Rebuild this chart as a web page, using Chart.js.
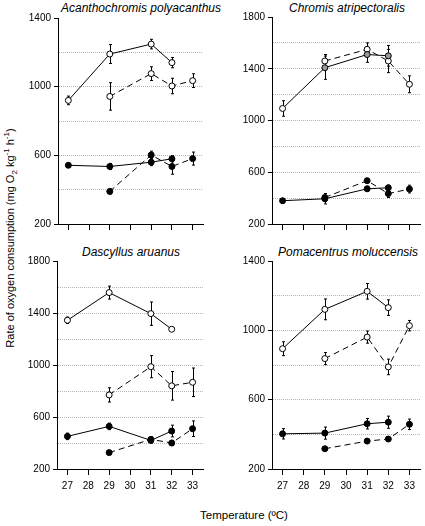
<!DOCTYPE html>
<html>
<head>
<meta charset="utf-8">
<script src="https://cdn.jsdelivr.net/npm/chart.js@4.4.1/dist/chart.umd.min.js"></script>
<style>
  body { margin: 0; background: #fff; width: 425px; height: 526px; position: relative; overflow: hidden;
         font-family: "Liberation Sans", Arial, sans-serif; color: #000; }
  canvas { position: absolute; }
  .ptitle { position: absolute; width: 220px; text-align: center; font-style: italic; font-size: 12px; line-height: 14px; }
  #ytitle { position: absolute; left: -140px; top: 231px; width: 300px; text-align: center; font-size: 11px;
            line-height: 14px; transform: rotate(-90deg); white-space: nowrap; }
  #ytitle sub, #ytitle sup { font-size: 8px; line-height: 0; }
  #xtitle { position: absolute; left: 144px; top: 508px; width: 200px; text-align: center; font-size: 11.5px; line-height: 14px; }
</style>
</head>
<body>
<div class="ptitle" style="left:31px;top:1px">Acanthochromis polyacanthus</div>
<div class="ptitle" style="left:237px;top:1px">Chromis atripectoralis</div>
<div class="ptitle" style="left:21px;top:245px">Dascyllus aruanus</div>
<div class="ptitle" style="left:238px;top:245px">Pomacentrus moluccensis</div>
<div id="ytitle">Rate of oxygen consumption (mg O<sub>2</sub> kg<sup>-1</sup> h<sup>-1</sup>)</div>
<div id="xtitle">Temperature (ºC)</div>

<canvas id="p1"></canvas>
<canvas id="p2"></canvas>
<canvas id="p3"></canvas>
<canvas id="p4"></canvas>

<script>
// temperature ticks and the two sets of test temperatures
const temps = [27, 28, 29, 30, 31, 32, 33];
const tempsA = [27, 29, 31, 32];
const tempsB = [29, 31, 32, 33];

// Acanthochromis polyacanthus
const acanOpenA = [920, 1190, 1248, 1140];
const acanOpenAErr = [25, 55, 28, 30];
const acanOpenB = [943, 1076, 1004, 1035];
const acanOpenBErr = [80, 40, 45, 40];
const acanFillA = [542, 535, 560, 580];
const acanFillAErr = [12, 18, 20, 18];
const acanFillB = [390, 602, 535, 581];
const acanFillBErr = [15, 22, 45, 38];

// Chromis atripectoralis
const chroOpenA = [1093, 1408, 1510, 1500];
const chroOpenAErr = [60, 90, 60, 80];
const chroOpenB = [1460, 1550, 1460, 1280];
const chroOpenBErr = [50, 50, 90, 65];
const chroFillA = [380, 395, 472, 480];
const chroFillAErr = [15, 40, 20, 20];
const chroFillB = [405, 535, 435, 470];
const chroFillBErr = [30, 15, 30, 30];

// Dascyllus aruanus
const dascOpenA = [1344, 1557, 1395, 1275];
const dascOpenAErr = [25, 50, 90, 10];
const dascOpenB = [770, 987, 840, 867];
const dascOpenBErr = [55, 85, 110, 110];
const dascFillA = [451, 528, 420, 492];
const dascFillAErr = [25, 25, 20, 45];
const dascFillB = [326, 428, 400, 510];
const dascFillBErr = [10, 20, 20, 60];

// Pomacentrus moluccensis
const pomaOpenA = [894, 1121, 1225, 1131];
const pomaOpenAErr = [40, 60, 45, 45];
const pomaOpenB = [837, 961, 789, 1027];
const pomaOpenBErr = [35, 35, 45, 30];
const pomaFillA = [403, 407, 461, 470];
const pomaFillAErr = [30, 35, 30, 35];
const pomaFillB = [317, 361, 373, 458];
const pomaFillBErr = [8, 10, 12, 30];

Chart.defaults.font.family = '"Liberation Sans", Arial, sans-serif';
Chart.defaults.font.size = 10;
Chart.defaults.color = '#000';

// vertical error bars with small caps, drawn under the markers
const errorBars = {
  id: 'errorBars',
  beforeDatasetsDraw(chart) {
    const ctx = chart.ctx, ys = chart.scales.y;
    ctx.save();
    ctx.strokeStyle = '#000';
    ctx.lineWidth = 1;
    chart.data.datasets.forEach((ds, i) => {
      const meta = chart.getDatasetMeta(i);
      meta.data.forEach((pt, j) => {
        const v = ds.data[j].y, e = ds.errors[j];
        const top = ys.getPixelForValue(v + e), bot = ys.getPixelForValue(v - e);
        const x = Math.round(pt.x) + 0.5;
        ctx.beginPath();
        ctx.moveTo(x, top); ctx.lineTo(x, bot);
        ctx.moveTo(x - 1.5, top); ctx.lineTo(x + 1.5, top);
        ctx.moveTo(x - 1.5, bot); ctx.lineTo(x + 1.5, bot);
        ctx.stroke();
      });
    });
    ctx.restore();
  }
};

function series(xs, ys, errs, filled, dashed, fillColors) {
  return {
    data: xs.map((x, i) => ({ x: x, y: ys[i] })),
    errors: errs,
    borderColor: '#000',
    borderWidth: 1,
    borderDash: dashed ? [6, 4] : [],
    pointRadius: 3,
    pointBorderWidth: 1,
    pointBorderColor: '#000',
    pointBackgroundColor: fillColors || (filled ? '#000' : '#fff'),
    tension: 0,
    fill: false
  };
}

function makePanel(id, box, yMax, datasets, showX) {
  const cv = document.getElementById(id);
  cv.width = box.w; cv.height = box.h;
  cv.style.left = box.x + 'px'; cv.style.top = box.y + 'px';
  const labelled = v => (v - 200) % 400 === 0;
  new Chart(cv, {
    type: 'line',
    data: { datasets: datasets },
    options: {
      responsive: false,
      animation: false,
      events: [],
      layout: { padding: { top: 10, right: box.pr, left: 0, bottom: 0 } },
      plugins: { legend: { display: false }, tooltip: { enabled: false }, title: { display: false } },
      scales: {
        x: {
          type: 'linear', min: 26.5, max: 33.5,
          afterBuildTicks: s => { s.ticks = temps.map(v => ({ value: v })); },
          afterFit: s => { s.height = showX ? 28 : 10; },
          grid: { drawOnChartArea: false, drawTicks: true, tickLength: 6, tickColor: '#000', tickWidth: 1 },
          border: { color: '#000', width: 1 },
          ticks: { display: showX, color: '#000', padding: 5, maxRotation: 0, autoSkip: false, font: { size: 10 } }
        },
        y: {
          type: 'linear', min: 200, max: yMax,
          afterBuildTicks: s => {
            const t = [];
            for (let v = 200; v <= yMax; v += 200) t.push({ value: v });
            s.ticks = t;
          },
          afterFit: s => { s.width = box.yw; },
          grid: {
            color: c => (!c.tick || c.tick.value === 200 || c.tick.value === yMax) ? 'rgba(0,0,0,0)' : '#b4b4b4',
            tickColor: c => (c.tick && labelled(c.tick.value)) ? '#000' : 'rgba(0,0,0,0)',
            tickLength: 4, lineWidth: 1
          },
          border: { color: '#000', width: 1, dash: [1, 1] },
          ticks: { callback: v => labelled(v) ? v : '', padding: 3, color: '#000', font: { size: 10 } }
        }
      }
    },
    plugins: [errorBars]
  });
}

makePanel('p1', { x: 0, y: 8, w: 209, h: 226, pr: 6, yw: 58 }, 1400, [
  series(tempsA, acanOpenA, acanOpenAErr, false, false),
  series(tempsB, acanOpenB, acanOpenBErr, false, true),
  series(tempsA, acanFillA, acanFillAErr, true, false),
  series(tempsB, acanFillB, acanFillBErr, true, true)
], false);

makePanel('p2', { x: 214, y: 7, w: 211, h: 227, pr: 4, yw: 58 }, 1800, [
  series(tempsA, chroOpenA, chroOpenAErr, false, false, ['#fff', '#999', '#999', '#999']),
  series(tempsB, chroOpenB, chroOpenBErr, false, true),
  series(tempsA, chroFillA, chroFillAErr, true, false),
  series(tempsB, chroFillB, chroFillBErr, true, true)
], false);

makePanel('p3', { x: 0, y: 251, w: 209, h: 246, pr: 6, yw: 57 }, 1800, [
  series(tempsA, dascOpenA, dascOpenAErr, false, false),
  series(tempsB, dascOpenB, dascOpenBErr, false, true),
  series(tempsA, dascFillA, dascFillAErr, true, false),
  series(tempsB, dascFillB, dascFillBErr, true, true)
], true);

makePanel('p4', { x: 214, y: 251, w: 211, h: 246, pr: 4, yw: 58 }, 1400, [
  series(tempsA, pomaOpenA, pomaOpenAErr, false, false),
  series(tempsB, pomaOpenB, pomaOpenBErr, false, true),
  series(tempsA, pomaFillA, pomaFillAErr, true, false),
  series(tempsB, pomaFillB, pomaFillBErr, true, true)
], true);
</script>
</body>
</html>
